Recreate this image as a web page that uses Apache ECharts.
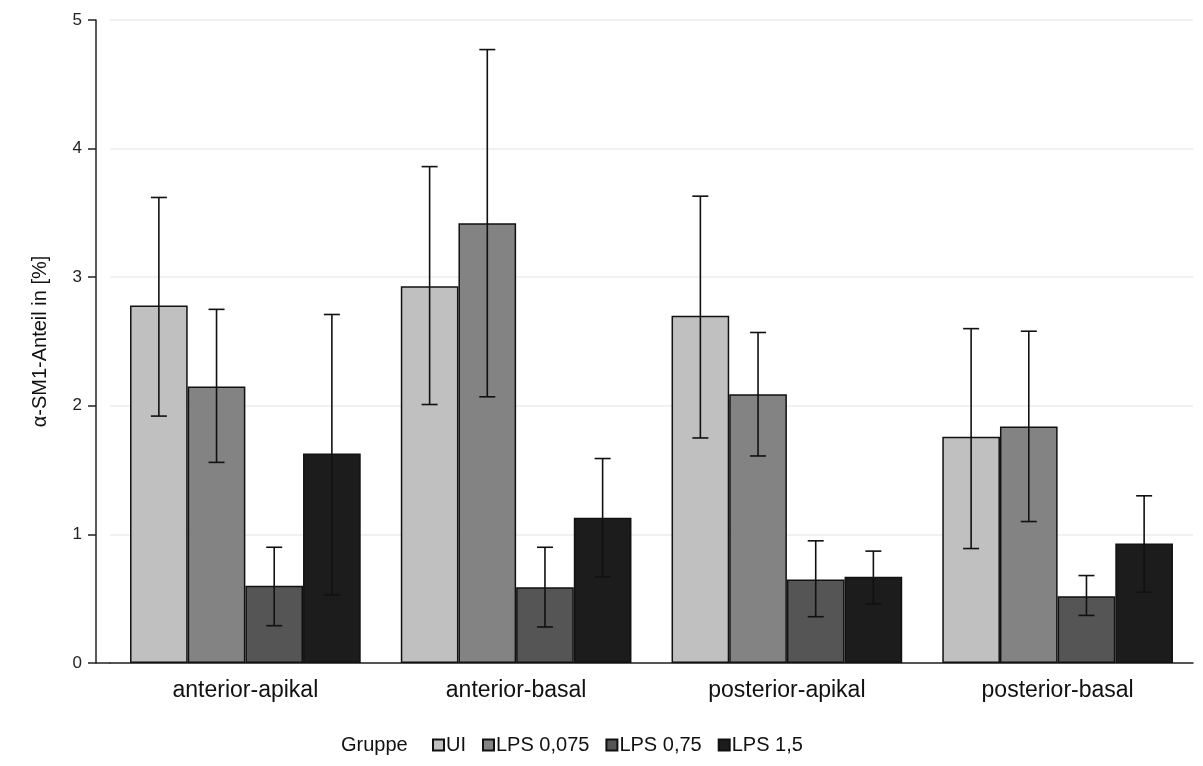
<!DOCTYPE html>
<html>
<head>
<meta charset="utf-8">
<script src="https://cdn.jsdelivr.net/npm/echarts@6/dist/echarts.min.js"></script>
<style>
  html, body { margin: 0; padding: 0; background: #fff; }
  #chart { width: 1203px; height: 766px; }
</style>
</head>
<body>
<div id="chart"></div>
<script>
// categories + groups
var regions = ['anterior-apikal', 'anterior-basal', 'posterior-apikal', 'posterior-basal'];
var groups = ['UI', 'LPS 0,075', 'LPS 0,75', 'LPS 1,5'];
var colors = ['#c0c0c0', '#838383', '#555555', '#1c1c1c'];

// means per group (order of regions)
var meanUI = [2.78, 2.93, 2.70, 1.76];
var meanLow = [2.15, 3.42, 2.09, 1.84];
var meanMid = [0.60, 0.59, 0.65, 0.52];
var meanHigh = [1.63, 1.13, 0.67, 0.93];

// error bar ends
var lowUI = [1.92, 2.01, 1.75, 0.89];
var highUI = [3.62, 3.86, 3.63, 2.60];
var lowLow = [1.56, 2.07, 1.61, 1.10];
var highLow = [2.75, 4.77, 2.57, 2.58];
var lowMid = [0.29, 0.28, 0.36, 0.37];
var highMid = [0.90, 0.90, 0.95, 0.68];
var lowHigh = [0.53, 0.67, 0.46, 0.55];
var highHigh = [2.71, 1.59, 0.87, 1.30];

var yTicks = [0, 1, 2, 3, 4, 5];

var means = [meanUI, meanLow, meanMid, meanHigh];
var lows = [lowUI, lowLow, lowMid, lowHigh];
var highs = [highUI, highLow, highMid, highHigh];

var catGap = 0.148;
var font = 'Liberation Sans, Arial, sans-serif';

var series = [];
groups.forEach(function (g, i) {
  series.push({
    name: g,
    type: 'bar',
    data: means[i],
    barGap: 0,
    barCategoryGap: (catGap * 100) + '%',
    itemStyle: { color: colors[i], borderColor: '#111', borderWidth: 1.5 },
    emphasis: { disabled: true }
  });
});

// error bars drawn as custom series on top of the bars
groups.forEach(function (g, i) {
  var errData = regions.map(function (r, k) { return [k, lows[i][k], highs[i][k]]; });
  series.push({
    type: 'custom',
    name: g + ' err',
    data: errData,
    z: 10,
    silent: true,
    renderItem: function (params, api) {
      var k = api.value(0);
      var lo = api.coord([k, api.value(1)]);
      var hi = api.coord([k, api.value(2)]);
      var band = api.size([1, 0])[0];
      var bw = band * (1 - catGap) / groups.length;
      var x = lo[0] + (i - (groups.length - 1) / 2) * bw;
      var cap = 8;
      var st = { stroke: '#111', lineWidth: 1.6 };
      return {
        type: 'group',
        children: [
          { type: 'line', shape: { x1: x, y1: lo[1], x2: x, y2: hi[1] }, style: st },
          { type: 'line', shape: { x1: x - cap, y1: lo[1], x2: x + cap, y2: lo[1] }, style: st },
          { type: 'line', shape: { x1: x - cap, y1: hi[1], x2: x + cap, y2: hi[1] }, style: st }
        ]
      };
    }
  });
});

var chart = echarts.init(document.getElementById('chart'));
chart.setOption({
  animation: false,
  backgroundColor: '#fff',
  textStyle: { fontFamily: font },
  title: {
    text: 'Gruppe',
    left: 341,
    top: 735,
    padding: 0,
    textStyle: { fontFamily: font, fontSize: 20, fontWeight: 'normal', color: '#111' }
  },
  legend: {
    data: groups,
    left: 432,
    top: 735,
    padding: 0,
    itemWidth: 11,
    itemHeight: 11,
    itemGap: 16,
    icon: 'rect',
    textStyle: { fontFamily: font, fontSize: 20, color: '#111', padding: [0, 0, 0, -3] }
  },
  // bit of x-axis line left of the shifted y-axis
  graphic: [{
    type: 'line',
    shape: { x1: 96, y1: 663, x2: 111, y2: 663 },
    style: { stroke: '#222', lineWidth: 1.5 }
  }],
  grid: { left: 110, right: 10, top: 20, bottom: 103 },
  xAxis: {
    type: 'category',
    data: regions,
    axisLine: { lineStyle: { color: '#222', width: 1.5 } },
    axisTick: { alignWithLabel: true, length: 9, lineStyle: { color: '#222', width: 1.5 } },
    axisLabel: { fontSize: 23, color: '#111', margin: 16 }
  },
  yAxis: {
    type: 'value',
    min: 0,
    max: 5,
    interval: 1,
    offset: 14,
    name: 'α-SM1-Anteil in [%]',
    nameLocation: 'middle',
    nameGap: 46,
    nameTextStyle: { fontSize: 20, color: '#111' },
    axisLine: { show: true, lineStyle: { color: '#222', width: 1.5 } },
    axisTick: { show: true, length: 8, lineStyle: { color: '#222', width: 1.5 } },
    axisLabel: {
      fontSize: 17, color: '#222', margin: 14,
      formatter: function (v) { return yTicks.indexOf(v) >= 0 ? String(v) : ''; }
    },
    splitLine: { lineStyle: { color: '#ececec', width: 1.5 } }
  },
  series: series
});
</script>
</body>
</html>
